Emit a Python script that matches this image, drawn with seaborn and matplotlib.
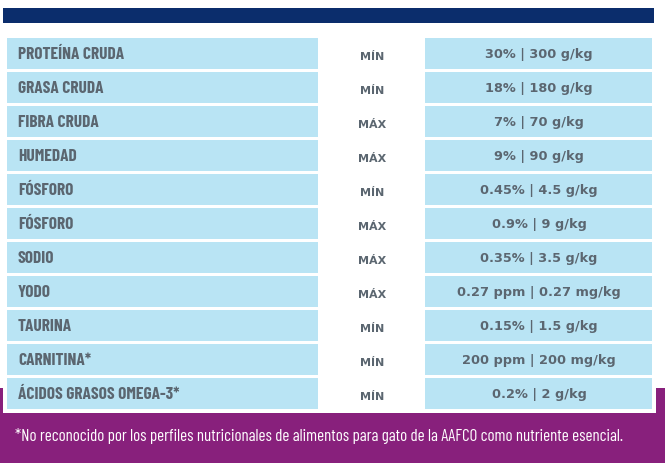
import matplotlib
matplotlib.use("Agg")
import matplotlib.pyplot as plt
import seaborn as sns
from matplotlib.patches import Rectangle

# table content
nutrients = ["PROTEÍNA CRUDA", "GRASA CRUDA", "FIBRA CRUDA", "HUMEDAD", "FÓSFORO",
             "FÓSFORO", "SODIO", "YODO", "TAURINA", "CARNITINA*", "ÁCIDOS GRASOS OMEGA-3*"]
limits = ["MÍN", "MÍN", "MÁX", "MÁX", "MÍN", "MÁX", "MÁX", "MÁX", "MÍN", "MÍN", "MÍN"]
amounts = ["30% | 300 g/kg", "18% | 180 g/kg", "7% | 70 g/kg", "9% | 90 g/kg",
           "0.45% | 4.5 g/kg", "0.9% | 9 g/kg", "0.35% | 3.5 g/kg",
           "0.27 ppm | 0.27 mg/kg", "0.15% | 1.5 g/kg", "200 ppm | 200 mg/kg",
           "0.2% | 2 g/kg"]
footnote = ("*No reconocido por los perfiles nutricionales de alimentos para gato "
            "de la AAFCO como nutriente esencial.")

sns.set_theme(style="white")
plt.rcParams["font.family"] = ["DejaVu Sans"]

NAVY = "#0b2d6c"
PURPLE = "#88207c"
CELL = "#b9e4f4"
TEXT = "#5b6670"
COND = ["Barlow Condensed", "Open Sans", "DejaVu Sans"]

fig = plt.figure(figsize=(6.65, 4.63), dpi=100)
ax = fig.add_axes([0, 0, 1, 1])
ax.set_xlim(0, 665)
ax.set_ylim(463, 0)
ax.axis("off")

# background bands
ax.add_patch(Rectangle((0, 388), 665, 75, color=PURPLE, lw=0))
ax.add_patch(Rectangle((3, 30), 653, 383, color="white", lw=0))
ax.add_patch(Rectangle((3, 8), 651, 15, color=NAVY, lw=0))

renderer = fig.canvas.get_renderer()

top, pitch, h = 38, 34, 31
for i, (name, lim, amt) in enumerate(zip(nutrients, limits, amounts)):
    y = top + i * pitch
    ax.add_patch(Rectangle((7, y), 311, h, color=CELL, lw=0))
    ax.add_patch(Rectangle((425, y), 227, h, color=CELL, lw=0))
    ax.text(18, y + h / 2 + 1, name, ha="left", va="center", color=TEXT,
            fontsize=12.5, fontweight="bold", fontstretch="condensed", family=COND)
    ax.text(372, y + h / 2 + 3, lim, ha="center", va="center", color=TEXT,
            fontsize=8, fontweight="bold", family="DejaVu Sans")
    ax.text(539, y + h / 2 + 1, amt, ha="center", va="center", color=TEXT,
            fontsize=9.3, fontweight="bold", family="DejaVu Sans")

note = ax.text(15, 436, footnote, ha="left", va="center", color="white",
               fontsize=13, fontweight="normal", fontstretch="condensed", family=COND)

# shrink the footnote until it fits the band width of the reference
size = 13
while note.get_window_extent(renderer).width > 613 and size > 6:
    size -= 0.1
    note.set_fontsize(size)

fig.savefig("out.png", dpi=100)
